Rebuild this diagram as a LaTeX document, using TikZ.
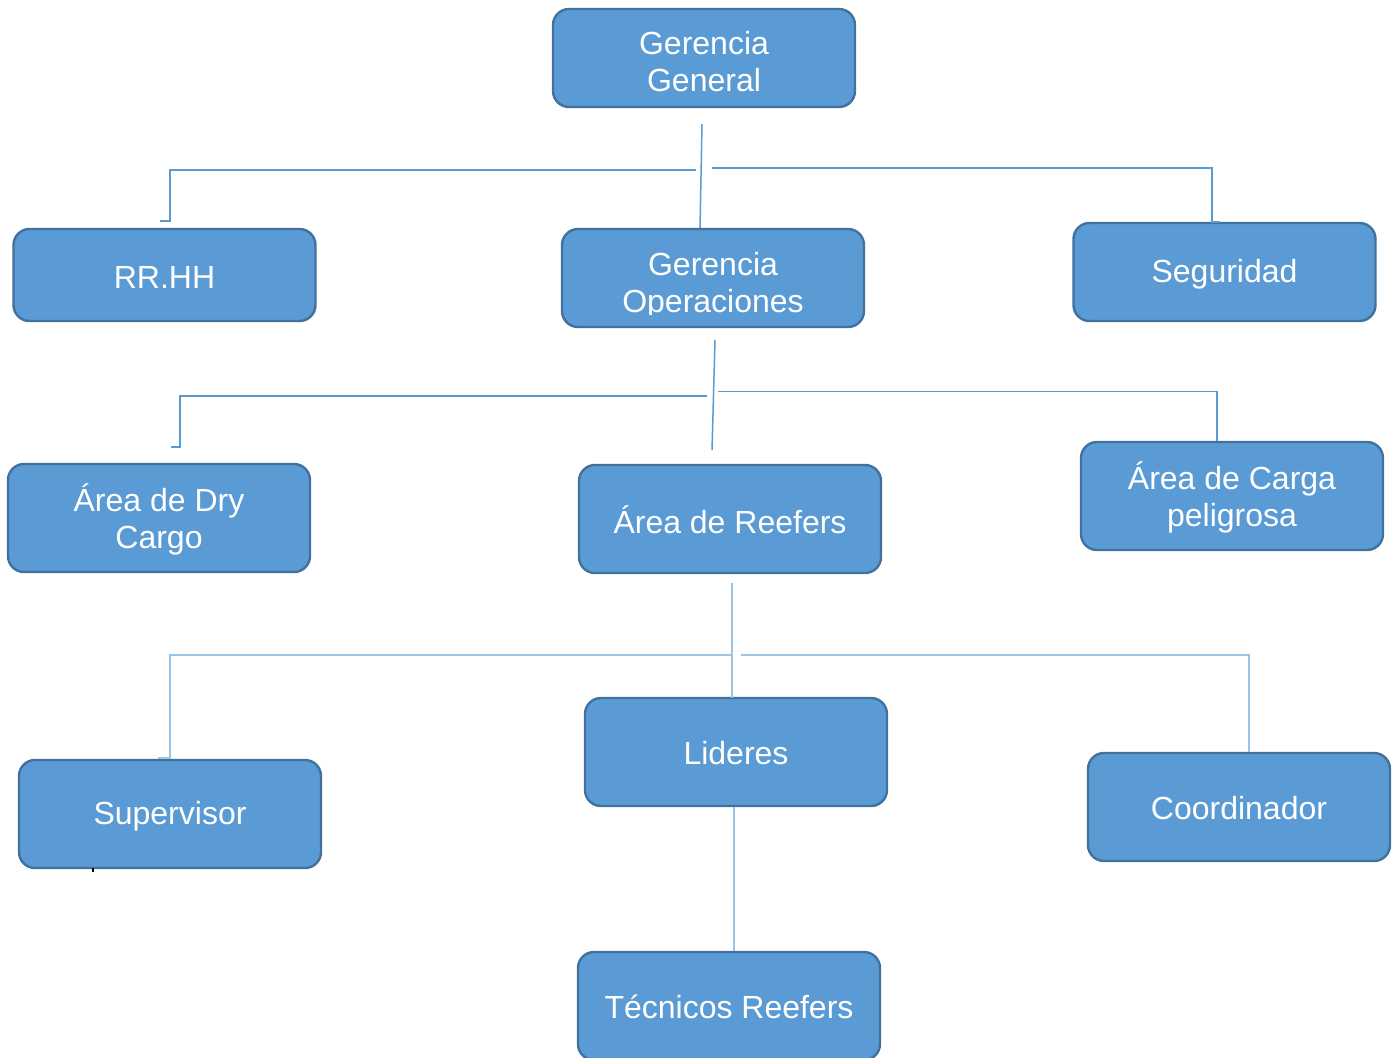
\documentclass[tikz,border=0pt]{standalone}
\usepackage{fontspec}
\setmainfont{Liberation Sans}
\definecolor{boxfill}{HTML}{5B9BD5}
\definecolor{boxline}{HTML}{41719C}
\definecolor{conn}{HTML}{5B9BD5}
\definecolor{connlight}{HTML}{9DC3E6}
\begin{document}
\begin{tikzpicture}[x=0.5pt,y=-0.5pt,
  orgbox/.style={draw=boxline, fill=boxfill, line width=1.2pt, rounded corners=8pt,
    minimum width=151pt, inner sep=0pt},
  txt/.style={text=white, align=center, inner sep=0pt, font=\fontsize{16}{18.5}\selectfont},
  link/.style={draw=conn, line width=0.75pt},
  linkl/.style={draw=connlight, line width=0.75pt}]
\useasboundingbox (0,0) rectangle (1396,1057);
\fill[white] (0,0) rectangle (1396,1057);

% boxes
\node[orgbox, minimum height=49pt] (gg) at (704,58) {};
\node[txt] (ggt) at (704,62) {Gerencia\\General};
\node[orgbox, minimum height=46pt] (rrhh) at (164.5,275) {};
\node[txt] (rrhht) at (164.5,277) {RR.HH};
\node[orgbox, minimum height=49pt] (gop) at (713,278) {};
\begin{scope}
  \clip (562,229) rectangle (864,314);
  \node[txt] (gopt) at (713,286) {Gerencia\\Operaciones};
\end{scope}
\node[orgbox, minimum height=49pt] (seg) at (1224.5,272) {};
\node[txt] (segt) at (1224.5,274) {Seguridad};
\node[orgbox, minimum height=54pt] (dry) at (159,518) {};
\node[txt] (dryt) at (159,519) {Área de Dry\\Cargo};
\node[orgbox, minimum height=54pt] (reef) at (730,519) {};
\node[txt] (reeft) at (730,520) {Área de Reefers};
\node[orgbox, minimum height=54pt] (carga) at (1232,496) {};
\node[txt] (cargat) at (1232,497) {Área de Carga\\peligrosa};
\node[orgbox, minimum height=54pt] (sup) at (170,814) {};
\node[txt] (supt) at (170,816) {Supervisor};
\node[orgbox, minimum height=54pt] (lid) at (736,752) {};
\node[txt] (lidt) at (736,753) {Lideres};
\node[orgbox, minimum height=54pt] (coord) at (1239,807) {};
\node[txt] (coordt) at (1239,808) {Coordinador};
\node[orgbox, minimum height=54pt] (tec) at (729,1006) {};
\node[txt] (tect) at (729,1007) {Técnicos Reefers};

% level 1 connectors
\coordinate (a1) at (702,124);
\coordinate (a2) at (700,228);
\draw[link] (a1) -- (a2);
\coordinate (l1a) at (696,170);
\coordinate (l1b) at (170,170);
\coordinate (l1c) at (170,221);
\coordinate (l1d) at (160,221);
\draw[link] (l1a) -- (l1b) -- (l1c) -- (l1d);
\coordinate (r1a) at (712,168);
\coordinate (r1b) at (1212,168);
\coordinate (r1c) at (1212,222);
\coordinate (r1d) at (1220,222);
\draw[link] (r1a) -- (r1b) -- (r1c) -- (r1d);

% level 2 connectors
\coordinate (b1) at (715,340);
\coordinate (b2) at (712,450);
\draw[link] (b1) -- (b2);
\coordinate (l2a) at (707,396);
\coordinate (l2b) at (180,396);
\coordinate (l2c) at (180,447);
\coordinate (l2d) at (171,447);
\draw[link] (l2a) -- (l2b) -- (l2c) -- (l2d);
\coordinate (r2a) at (718,391.5);
\coordinate (r2b) at (1217,391.5);
\coordinate (r2c) at (1217,441);
\draw[link] (r2a) -- (r2b) -- (r2c);

% level 3 connectors
\coordinate (c1) at (732,583);
\coordinate (c2) at (732,698);
\draw[linkl] (c1) -- (c2);
\coordinate (l3a) at (731,655);
\coordinate (l3b) at (170,655);
\coordinate (l3c) at (170,758);
\coordinate (l3d) at (158,758);
\draw[linkl] (l3a) -- (l3b) -- (l3c) -- (l3d);
\coordinate (r3a) at (741,655);
\coordinate (r3b) at (1249,655);
\coordinate (r3c) at (1249,752);
\draw[linkl] (r3a) -- (r3b) -- (r3c);

% lideres to tecnicos
\draw[linkl] (lid.south -| 734,0) -- (tec.north -| 734,0);

% small mark
\coordinate (m1) at (93,868);
\coordinate (m2) at (93,872);
\draw[black, line width=1pt] (m1) -- (m2);
\end{tikzpicture}
\end{document}
